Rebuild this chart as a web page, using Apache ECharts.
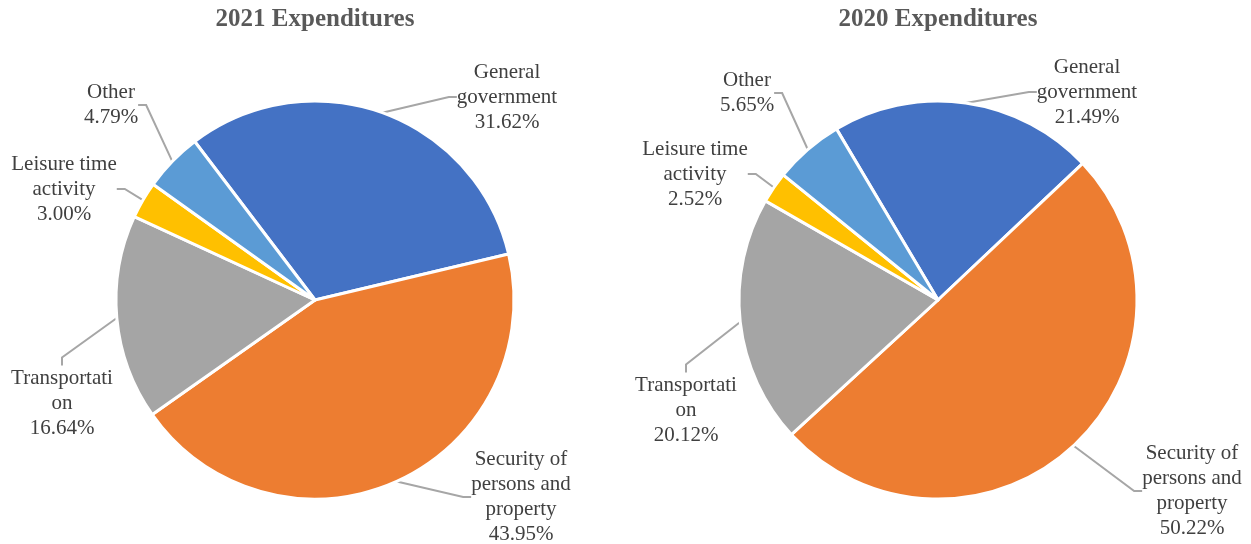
<!DOCTYPE html>
<html lang="en">
<head>
    <meta charset="UTF-8">
    <title>Expenditures</title>
    <script src="https://cdn.jsdelivr.net/npm/echarts@6/dist/echarts.min.js"></script>
    <style>
        html, body { margin: 0; padding: 0; background: #fff; }
        #main { width: 1251px; height: 544px; }
    </style>
</head>
<body>
<div id="main"></div>

<script type="text/javascript">
    // categories (clockwise, from the first slice)
    var categories = ['General government', 'Security of persons and property', 'Transportation', 'Leisure time activity', 'Other'];
    // names as wrapped in the labels
    var labelNames = ['General\ngovernment', 'Security of\npersons and\nproperty', 'Transportati\non', 'Leisure time\nactivity', 'Other'];
    var values2021 = [31.62, 43.95, 16.64, 3.00, 4.79];
    var values2020 = [21.49, 50.22, 20.12, 2.52, 5.65];

    var colors = ['#4472C4', '#ED7D31', '#A5A5A5', '#FFC000', '#5B9BD5'];
    var font = "'Liberation Serif', 'Times New Roman', serif";

    // label centres (layout only)
    var labelPos2021 = [[507, 97], [521, 497], [62, 403], [64, 189], [111, 105]];
    var labelPos2020 = [[1087, 92], [1192, 491], [686, 410], [695, 174], [747, 93]];

    function pieSeries(values, center, startAngle, pos) {
        return {
            type: 'pie',
            center: center,
            radius: 199,
            startAngle: startAngle,
            clockwise: true,
            avoidLabelOverlap: false,
            animation: false,
            data: categories.map(function (c, i) {
                return { name: c, value: values[i], itemStyle: { color: colors[i] } };
            }),
            itemStyle: { borderColor: '#fff', borderWidth: 3 },
            label: {
                show: true,
                fontFamily: font,
                fontSize: 21,
                lineHeight: 25,
                color: '#404040',
                align: 'center',
                formatter: function (p) {
                    return labelNames[p.dataIndex] + '\n' + p.value.toFixed(2) + '%';
                }
            },
            labelLine: {
                show: true,
                length: 10,
                length2: 8,
                lineStyle: { color: '#a6a6a6', width: 2 }
            },
            labelLayout: function (p) {
                return {
                    x: pos[p.dataIndex][0],
                    y: pos[p.dataIndex][1],
                    align: 'center',
                    verticalAlign: 'middle'
                };
            },
            emphasis: { disabled: true }
        };
    }

    var chart = echarts.init(document.getElementById('main'));
    var option = {
        animation: false,
        backgroundColor: '#fff',
        title: [
            {
                text: '2021 Expenditures',
                left: 315, top: 7, textAlign: 'center', padding: 0,
                textStyle: { fontFamily: font, fontSize: 25, fontWeight: 'bold', color: '#595959' }
            },
            {
                text: '2020 Expenditures',
                left: 938, top: 7, textAlign: 'center', padding: 0,
                textStyle: { fontFamily: font, fontSize: 25, fontWeight: 'bold', color: '#595959' }
            }
        ],
        series: [
            pieSeries(values2021, [315, 300], 127.2, labelPos2021),
            pieSeries(values2020, [938, 300], 120.7, labelPos2020)
        ]
    };
    chart.setOption(option);
</script>

</body>
</html>
